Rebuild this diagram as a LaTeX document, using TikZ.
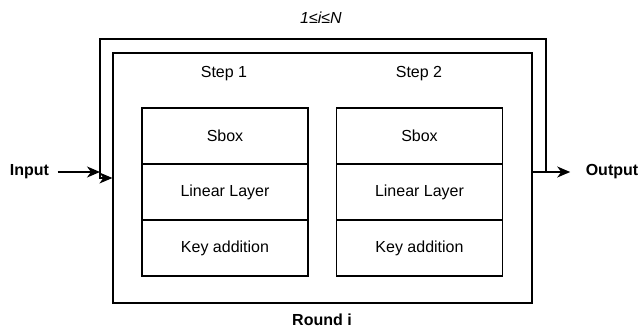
\documentclass[tikz,border=0pt]{standalone}
\usepackage{fontspec}
\setmainfont{Liberation Sans}
\usetikzlibrary{arrows.meta,positioning,calc}
\begin{document}
\begin{tikzpicture}[x=1pt,y=-1pt,
  line width=1.2pt,
  txt/.style={font=\fontsize{16}{19}\selectfont, inner sep=0pt},
  bold/.style={txt, font=\fontsize{16}{19}\selectfont\bfseries},
  layerbox/.style={draw, minimum width=166pt, minimum height=56pt, inner sep=0pt, font=\fontsize{16}{19}\selectfont},
  arr/.style={-{Stealth[length=13pt,width=11pt,inset=4pt]}}
]
\useasboundingbox (0,0) rectangle (642,329);
% inner frame (Round i)
\node[draw, minimum width=419pt, minimum height=250pt, inner sep=0pt] (frame) at (322.5,178) {};
% step labels
\node[txt] (s1) at (224,74) {Step 1};
\node[txt] (s2) at (419,74) {Step 2};
% column 1
\node[layerbox] (sbox1) at (225,136) {Sbox};
\node[layerbox] (lin1) at (225,192) {Linear Layer};
\node[layerbox] (key1) at (225,248) {Key addition};
% column 2
\node[layerbox] (sbox2) at (419.5,136) {Sbox};
\node[layerbox] (lin2) at (419.5,192) {Linear Layer};
\node[layerbox] (key2) at (419.5,248) {Key addition};
% labels
\node[txt, font=\fontsize{16}{19}\selectfont\itshape] (iter) at (321,18) {1≤i≤N};
\node[bold] (round) at (322,320) {Round i};
\node[bold] (input) at (29.5,172) {Input};
\node[bold] (output) at (612,172) {Output};
% coordinates for loop
\coordinate (inpEnd) at (100,172);
\coordinate (outStart) at (532,172);
\coordinate (loopR) at (546,172);
\coordinate (loopRT) at (546,39);
\coordinate (loopLT) at (100,39);
\coordinate (loopLB) at (100,178);
% connectors
\draw[arr] ([xshift=8pt]input.east) -- (inpEnd);
\draw[arr] (outStart) -- ([xshift=-15pt]output.west);
\draw[arr] (loopR) -- (loopRT) -- (loopLT) -- (loopLB) -- (frame.west);
\end{tikzpicture}
\end{document}
